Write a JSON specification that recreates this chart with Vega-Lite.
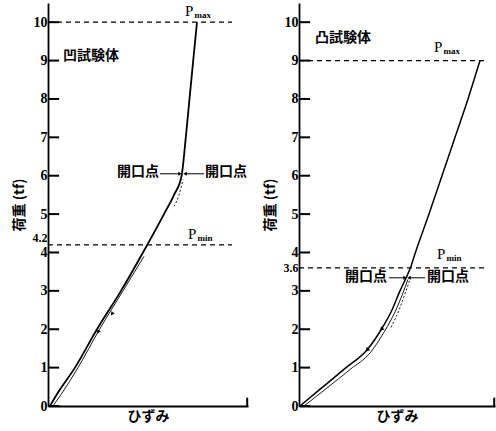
{
  "$schema": "https://vega.github.io/schema/vega-lite/v6.json",
  "background": "white",
  "padding": {"left": 12, "top": 3, "right": 2, "bottom": 2},
  "spacing": 14,
  "config": {
    "view": {"stroke": null},
    "axis": {
      "domainColor": "black",
      "domainWidth": 1.8,
      "grid": false,
      "labelOverlap": false,
      "labelFont": "Liberation Serif",
      "labelFontSize": 14,
      "labelFontWeight": "bold",
      "labelColor": "black",
      "titleFont": "Noto Sans CJK JP",
      "titleFontSize": 14,
      "titleFontWeight": "bold",
      "titleColor": "black"
    }
  },
  "hconcat": [
    {
      "width": 200,
      "height": 403,
      "layer": [
        {
          "data": {"values": [{"y": 10, "x0": 0, "x1": 92}, {"y": 4.2, "x0": 0, "x1": 92}]},
          "mark": {"type": "rule", "strokeDash": [5, 4], "strokeWidth": 1.2, "color": "black"},
          "encoding": {
            "x": {"field": "x0", "type": "quantitative", "scale": {"domain": [0, 100], "nice": false},
              "axis": {"values": [100], "labels": false, "ticks": false, "title": "ひずみ", "titlePadding": 3}},
            "x2": {"field": "x1"},
            "y": {"field": "y", "type": "quantitative", "scale": {"domain": [0, 10.5], "nice": false},
              "axis": {"values": [0, 1, 2, 3, 4, 4.2, 5, 6, 7, 8, 9, 10], "tickCount": 30, "format": ".1~f",
                "ticks": false, "labelPadding": 1, "labelOverlap": false, "title": "荷重 (tf)", "titlePadding": 6,
                "labelOffset": {"condition": {"test": "datum.value == 4.2", "value": -7}, "value": 0},
                "labelFontSize": {"condition": {"test": "datum.value == 4.2", "value": 12}, "value": 14}}}
          }
        },
        {
          "data": {"values": [
            {"i": 0, "x": 1, "y": 0}, {"i": 1, "x": 5, "y": 0.35}, {"i": 2, "x": 13.5, "y": 1},
            {"i": 3, "x": 24.5, "y": 2}, {"i": 4, "x": 36.5, "y": 3}, {"i": 5, "x": 47.5, "y": 4},
            {"i": 6, "x": 58, "y": 5}, {"i": 7, "x": 63, "y": 5.5}, {"i": 8, "x": 66.8, "y": 6},
            {"i": 9, "x": 68.9, "y": 7}, {"i": 10, "x": 70.75, "y": 8}, {"i": 11, "x": 72.6, "y": 9},
            {"i": 12, "x": 74.5, "y": 10}
          ]},
          "mark": {"type": "line", "color": "black", "strokeWidth": 1.8, "interpolate": "monotone"},
          "encoding": {
            "x": {"field": "x", "type": "quantitative"},
            "y": {"field": "y", "type": "quantitative"},
            "order": {"field": "i"}
          }
        },
        {
          "data": {"values": [
            {"i": 0, "x": 2.5, "y": 0}, {"i": 1, "x": 6.5, "y": 0.3}, {"i": 2, "x": 15, "y": 1},
            {"i": 3, "x": 25.8, "y": 2}, {"i": 4, "x": 37.5, "y": 3}, {"i": 5, "x": 48, "y": 3.9}
          ]},
          "mark": {"type": "line", "color": "black", "strokeWidth": 0.9, "interpolate": "monotone"},
          "encoding": {
            "x": {"field": "x", "type": "quantitative"},
            "y": {"field": "y", "type": "quantitative"},
            "order": {"field": "i"}
          }
        },
        {
          "data": {"values": [
            {"i": 0, "x": 63, "y": 5.2}, {"i": 1, "x": 65.5, "y": 5.5}, {"i": 2, "x": 67.5, "y": 5.9}
          ]},
          "mark": {"type": "line", "color": "black", "strokeWidth": 0.9, "strokeDash": [2, 2], "interpolate": "monotone"},
          "encoding": {
            "x": {"field": "x", "type": "quantitative"},
            "y": {"field": "y", "type": "quantitative"},
            "order": {"field": "i"}
          }
        },
        {
          "data": {"values": [{"x": 25, "y": 1.93}, {"x": 32, "y": 2.4}]},
          "mark": {"type": "point", "shape": "triangle-down", "filled": true, "color": "black", "size": 18, "angle": 33, "opacity": 1},
          "encoding": {
            "x": {"field": "x", "type": "quantitative"},
            "y": {"field": "y", "type": "quantitative"}
          }
        },
        {
          "data": {"values": [{"x0": 56, "x1": 66, "y": 6.05}, {"x0": 78, "x1": 68.5, "y": 6.05}]},
          "mark": {"type": "rule", "color": "black", "strokeWidth": 1},
          "encoding": {
            "x": {"field": "x0", "type": "quantitative"},
            "x2": {"field": "x1"},
            "y": {"field": "y", "type": "quantitative"}
          }
        },
        {
          "data": {"values": [{"x": 66, "y": 6.05, "d": "r"}, {"x": 68.5, "y": 6.05, "d": "l"}]},
          "mark": {"type": "point", "filled": true, "color": "black", "size": 16, "opacity": 1},
          "encoding": {
            "x": {"field": "x", "type": "quantitative"},
            "y": {"field": "y", "type": "quantitative"},
            "shape": {"field": "d", "type": "nominal", "scale": {"domain": ["r", "l"], "range": ["triangle-right", "triangle-left"]}, "legend": null}
          }
        },
        {
          "data": {"values": [
            {"t": "凹試験体", "x": 7.5, "y": 9.11},
            {"t": "開口点", "x": 34.5, "y": 6.09},
            {"t": "開口点", "x": 78.5, "y": 6.09}
          ]},
          "mark": {"type": "text", "align": "left", "baseline": "middle", "font": "Noto Sans CJK JP", "fontWeight": "bold", "fontSize": 14, "color": "black"},
          "encoding": {
            "x": {"field": "x", "type": "quantitative"},
            "y": {"field": "y", "type": "quantitative"},
            "text": {"field": "t"}
          }
        },
        {
          "data": {"values": [
            {"t": "P", "s": "max", "x": 68.5, "y": 10.17},
            {"t": "P", "s": "min", "x": 70, "y": 4.35}
          ]},
          "mark": {"type": "text", "align": "left", "baseline": "alphabetic", "font": "Liberation Serif", "fontSize": 15, "color": "black"},
          "encoding": {
            "x": {"field": "x", "type": "quantitative"},
            "y": {"field": "y", "type": "quantitative"},
            "text": {"field": "t"}
          }
        },
        {
          "data": {"values": [
            {"t": "P", "s": "max", "x": 68.5, "y": 10.17},
            {"t": "P", "s": "min", "x": 70, "y": 4.35}
          ]},
          "mark": {"type": "text", "align": "left", "baseline": "alphabetic", "font": "Liberation Serif", "fontWeight": "bold", "fontSize": 9, "dx": 9.5, "dy": 2, "color": "black"},
          "encoding": {
            "x": {"field": "x", "type": "quantitative"},
            "y": {"field": "y", "type": "quantitative"},
            "text": {"field": "s"}
          }
        },
        {
          "data": {"values": [
            {"v": 0}, {"v": 1}, {"v": 2}, {"v": 3}, {"v": 4}, {"v": 5}, {"v": 6}, {"v": 7}, {"v": 8}, {"v": 9}, {"v": 10}
          ]},
          "mark": {"type": "tick", "orient": "horizontal", "color": "#000000", "thickness": 2, "size": 11, "opacity": 1},
          "encoding": {
            "x": {"datum": 2.8, "type": "quantitative"},
            "y": {"field": "v", "type": "quantitative"}
          }
        },
        {
          "data": {"values": [{"tx": 99.6, "ty": 0.1}]},
          "mark": {"type": "tick", "orient": "vertical", "color": "#000000", "thickness": 2, "size": 9, "opacity": 1},
          "encoding": {
            "x": {"field": "tx", "type": "quantitative"},
            "y": {"field": "ty", "type": "quantitative"}
          }
        }
      ]
    },
    {
      "width": 196,
      "height": 403,
      "layer": [
        {
          "data": {"values": [{"y": 9, "x0": 0, "x1": 94}, {"y": 3.6, "x0": 0, "x1": 94}]},
          "mark": {"type": "rule", "strokeDash": [5, 4], "strokeWidth": 1.2, "color": "black"},
          "encoding": {
            "x": {"field": "x0", "type": "quantitative", "scale": {"domain": [0, 98], "nice": false},
              "axis": {"values": [98], "labels": false, "ticks": false, "title": "ひずみ", "titlePadding": 3}},
            "x2": {"field": "x1"},
            "y": {"field": "y", "type": "quantitative", "scale": {"domain": [0, 10.5], "nice": false},
              "axis": {"values": [0, 1, 2, 3, 3.6, 4, 5, 6, 7, 8, 9, 10], "tickCount": 30, "format": ".1~f",
                "ticks": false, "labelPadding": 1, "labelOverlap": false, "title": "荷重 (tf)", "titlePadding": 6,
                "labelFontSize": {"condition": {"test": "datum.value == 3.6", "value": 12}, "value": 14}}}
          }
        },
        {
          "data": {"values": [
            {"i": 0, "x": 0.5, "y": 0}, {"i": 1, "x": 12, "y": 0.5}, {"i": 2, "x": 23.5, "y": 1},
            {"i": 3, "x": 34, "y": 1.46}, {"i": 4, "x": 41.2, "y": 2}, {"i": 5, "x": 46.5, "y": 2.5},
            {"i": 6, "x": 50.5, "y": 3}, {"i": 7, "x": 54, "y": 3.39}, {"i": 8, "x": 55.7, "y": 3.6},
            {"i": 9, "x": 58.2, "y": 4}, {"i": 10, "x": 65, "y": 5}, {"i": 11, "x": 71.5, "y": 6},
            {"i": 12, "x": 78, "y": 7}, {"i": 13, "x": 84.5, "y": 8}, {"i": 14, "x": 90.5, "y": 9}
          ]},
          "mark": {"type": "line", "color": "black", "strokeWidth": 1.5, "interpolate": "monotone"},
          "encoding": {
            "x": {"field": "x", "type": "quantitative"},
            "y": {"field": "y", "type": "quantitative"},
            "order": {"field": "i"}
          }
        },
        {
          "data": {"values": [
            {"i": 0, "x": 2.5, "y": 0}, {"i": 1, "x": 14, "y": 0.47}, {"i": 2, "x": 25.5, "y": 0.95},
            {"i": 3, "x": 35.8, "y": 1.4}, {"i": 4, "x": 42.8, "y": 1.95}, {"i": 5, "x": 48, "y": 2.45},
            {"i": 6, "x": 52, "y": 2.95}, {"i": 7, "x": 54.5, "y": 3.3}
          ]},
          "mark": {"type": "line", "color": "black", "strokeWidth": 0.9, "interpolate": "monotone"},
          "encoding": {
            "x": {"field": "x", "type": "quantitative"},
            "y": {"field": "y", "type": "quantitative"},
            "order": {"field": "i"}
          }
        },
        {
          "data": {"values": [
            {"i": 0, "x": 46, "y": 2.05}, {"i": 1, "x": 50, "y": 2.5}, {"i": 2, "x": 53.5, "y": 3}, {"i": 3, "x": 55.5, "y": 3.3}
          ]},
          "mark": {"type": "line", "color": "black", "strokeWidth": 0.9, "strokeDash": [2, 2], "interpolate": "monotone"},
          "encoding": {
            "x": {"field": "x", "type": "quantitative"},
            "y": {"field": "y", "type": "quantitative"},
            "order": {"field": "i"}
          }
        },
        {
          "data": {"values": [{"x": 34, "y": 1.46}, {"x": 41.2, "y": 2.0}]},
          "mark": {"type": "point", "shape": "triangle-down", "filled": true, "color": "black", "size": 22, "angle": 45, "opacity": 1},
          "encoding": {
            "x": {"field": "x", "type": "quantitative"},
            "y": {"field": "y", "type": "quantitative"}
          }
        },
        {
          "data": {"values": [{"x0": 45, "x1": 53, "y": 3.34}, {"x0": 63, "x1": 55, "y": 3.34}]},
          "mark": {"type": "rule", "color": "black", "strokeWidth": 1},
          "encoding": {
            "x": {"field": "x0", "type": "quantitative"},
            "x2": {"field": "x1"},
            "y": {"field": "y", "type": "quantitative"}
          }
        },
        {
          "data": {"values": [{"x": 53, "y": 3.34, "d": "r"}, {"x": 55, "y": 3.34, "d": "l"}]},
          "mark": {"type": "point", "filled": true, "color": "black", "size": 16, "opacity": 1},
          "encoding": {
            "x": {"field": "x", "type": "quantitative"},
            "y": {"field": "y", "type": "quantitative"},
            "shape": {"field": "d", "type": "nominal", "scale": {"domain": ["r", "l"], "range": ["triangle-right", "triangle-left"]}, "legend": null}
          }
        },
        {
          "data": {"values": [
            {"t": "凸試験体", "x": 8, "y": 9.58},
            {"t": "開口点", "x": 23, "y": 3.36},
            {"t": "開口点", "x": 64, "y": 3.36}
          ]},
          "mark": {"type": "text", "align": "left", "baseline": "middle", "font": "Noto Sans CJK JP", "fontWeight": "bold", "fontSize": 14, "color": "black"},
          "encoding": {
            "x": {"field": "x", "type": "quantitative"},
            "y": {"field": "y", "type": "quantitative"},
            "text": {"field": "t"}
          }
        },
        {
          "data": {"values": [
            {"t": "P", "s": "max", "x": 67.5, "y": 9.22},
            {"t": "P", "s": "min", "x": 69, "y": 3.83}
          ]},
          "mark": {"type": "text", "align": "left", "baseline": "alphabetic", "font": "Liberation Serif", "fontSize": 15, "color": "black"},
          "encoding": {
            "x": {"field": "x", "type": "quantitative"},
            "y": {"field": "y", "type": "quantitative"},
            "text": {"field": "t"}
          }
        },
        {
          "data": {"values": [
            {"t": "P", "s": "max", "x": 67.5, "y": 9.22},
            {"t": "P", "s": "min", "x": 69, "y": 3.83}
          ]},
          "mark": {"type": "text", "align": "left", "baseline": "alphabetic", "font": "Liberation Serif", "fontWeight": "bold", "fontSize": 9, "dx": 9.5, "dy": 2, "color": "black"},
          "encoding": {
            "x": {"field": "x", "type": "quantitative"},
            "y": {"field": "y", "type": "quantitative"},
            "text": {"field": "s"}
          }
        },
        {
          "data": {"values": [
            {"v": 0}, {"v": 1}, {"v": 2}, {"v": 3}, {"v": 4}, {"v": 5}, {"v": 6}, {"v": 7}, {"v": 8}, {"v": 9}, {"v": 10}
          ]},
          "mark": {"type": "tick", "orient": "horizontal", "color": "#000000", "thickness": 2, "size": 11, "opacity": 1},
          "encoding": {
            "x": {"datum": 2.8, "type": "quantitative"},
            "y": {"field": "v", "type": "quantitative"}
          }
        },
        {
          "data": {"values": [{"tx": 97.6, "ty": 0.1}]},
          "mark": {"type": "tick", "orient": "vertical", "color": "#000000", "thickness": 2, "size": 9, "opacity": 1},
          "encoding": {
            "x": {"field": "tx", "type": "quantitative"},
            "y": {"field": "ty", "type": "quantitative"}
          }
        }
      ]
    }
  ]
}
